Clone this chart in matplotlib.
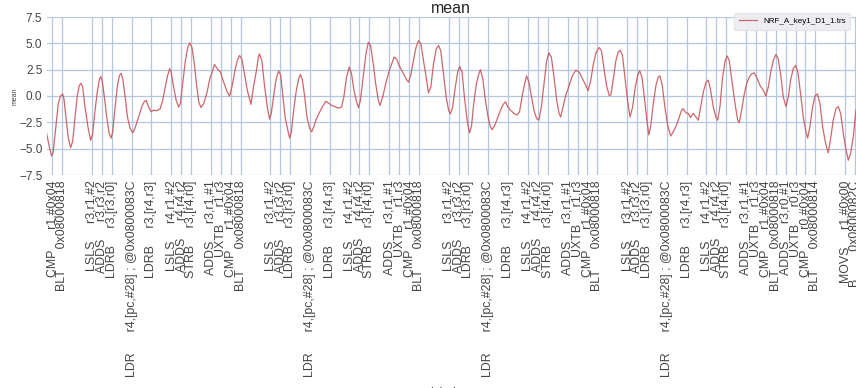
import matplotlib
matplotlib.use("Agg")
import matplotlib.pyplot as plt

# ---------------- data ----------------
# trace samples (x in instruction-cycle units, y = mean)
trace_x = [
    -0.57, -0.30, -0.07, 0.10, 0.37, 0.61, 0.84, 1.05, 1.18, 1.38, 1.62, 1.86, 2.06, 2.30, 2.53, 2.73, 2.90, 3.07,
    3.30, 3.65, 3.88, 4.08, 4.32, 4.56, 4.76, 4.90, 5.06, 5.26, 5.50, 5.74, 5.94, 6.10, 6.35, 6.58, 6.78, 6.95,
    7.12, 7.36, 7.59, 7.86, 8.13, 8.37, 8.70, 9.04, 9.28, 9.48, 9.72, 9.99, 10.20, 10.56, 10.90, 11.14, 11.40,
    11.64, 11.85, 12.00, 12.25, 12.50, 12.76, 12.93, 13.20, 13.43, 13.67, 13.87, 14.10, 14.34, 14.55, 14.78,
    15.00, 15.29, 15.63, 15.90, 16.13, 16.37, 16.64, 16.98, 17.30, 17.65, 17.90, 18.16, 18.43, 18.66, 18.90,
    19.13, 19.40, 19.68, 20.05, 20.30, 20.60, 20.80, 20.90, 21.15, 21.40, 21.70, 21.93, 22.10, 22.37, 22.60,
    22.84, 23.05, 23.28, 23.50, 23.80, 23.96, 24.13, 24.36, 24.63, 24.87, 25.04, 25.24, 25.48, 25.70, 25.98,
    26.18, 26.39, 26.66, 27.00, 27.33, 27.60, 27.84, 28.18, 28.50, 28.85, 29.19, 29.42, 29.70, 29.96, 30.20,
    30.44, 30.70, 30.90, 31.10, 31.38, 31.65, 31.89, 32.12, 32.39, 32.66, 32.90, 33.07, 33.34, 33.68, 34.00,
    34.25, 34.50, 34.76, 35.00, 35.36, 35.70, 35.94, 36.17, 36.44, 36.70, 36.95, 37.20, 37.46, 37.73, 37.96,
    38.20, 38.47, 38.74, 38.98, 39.20, 39.48, 39.75, 39.99, 40.17, 40.40, 40.67, 40.90, 41.10, 41.35, 41.59,
    41.86, 42.10, 42.30, 42.53, 42.80, 43.04, 43.20, 43.44, 43.71, 43.98, 44.20, 44.39, 44.66, 44.96, 45.23,
    45.50, 45.74, 45.97, 46.24, 46.58, 46.92, 47.15, 47.40, 47.66, 47.86, 48.10, 48.34, 48.60, 48.88, 49.10,
    49.35, 49.62, 49.89, 50.10, 50.36, 50.63, 50.90, 51.14, 51.30, 51.54, 51.81, 52.15, 52.50, 52.83, 53.17,
    53.50, 53.84, 54.07, 54.34, 54.60, 54.88, 55.19, 55.42, 55.70, 55.96, 56.20, 56.37, 56.64, 56.87, 57.10,
    57.30, 57.54, 57.78, 58.05, 58.30, 58.56, 58.83, 59.07, 59.27, 59.50, 59.74, 60.00, 60.20, 60.38, 60.65,
    60.91, 61.15, 61.32, 61.55, 61.82, 62.09, 62.40, 62.66, 63.00, 63.27, 63.50, 63.67, 63.94, 64.18, 64.40,
    64.68, 64.95, 65.19, 65.42, 65.70, 65.96, 66.20, 66.43, 66.70, 66.97, 67.14, 67.37, 67.64, 67.90, 68.11,
    68.31, 68.58, 68.89, 69.16, 69.32, 69.56, 69.80, 70.06, 70.33, 70.57, 70.80, 71.07, 71.41, 71.75, 72.00,
    72.25, 72.52, 72.75, 73.02, 73.26, 73.53, 73.76, 74.03, 74.27, 74.50, 74.77, 75.00, 75.24, 75.51, 75.78,
    76.02, 76.22, 76.45, 76.72, 76.96, 77.20, 77.46, 77.73, 78.03, 78.30, 78.57, 78.80, 79.08, 79.31, 79.55,
    79.82, 80.09, 80.32, 80.56, 80.83, 81.00, 81.10,
]
trace_y = [
    -3.55, -4.8, -5.7, -5.3, -2.9, -0.7, 0.0, 0.2, -0.25, -2.0, -4.0, -4.9, -4.3, -2.0, 0.05, 1.0, 1.2, 0.85,
    -1.0, -3.2, -4.2, -3.55, -1.35, 0.5, 1.6, 1.85, 1.3, -0.1, -2.0, -3.55, -4.0, -3.4, -1.0, 1.0, 1.95, 2.15,
    1.6, -0.1, -2.0, -3.1, -3.5, -3.0, -2.0, -1.0, -0.55, -0.4, -1.05, -1.5, -1.35, -1.4, -1.2, -0.4, 0.85,
    1.95, 2.6, 2.25, 0.85, -0.4, -1.05, -0.7, 1.5, 3.35, 4.6, 5.05, 4.6, 3.05, 1.15, -0.55,
    -1.1, -0.7, 0.4, 1.65, 2.25, 3.0, 2.6, 2.25, 1.3, 0.4, 0.0, 1.0, 2.4, 3.35, 3.85,
    3.5, 2.1, 0.55, -0.8, 0.85, 2.4, 3.7, 4.0, 3.35, 1.15, -1.05, -2.2, -1.65, 0.2, 1.65,
    2.4, 1.95, -0.1, -2.0, -3.4, -4.0, -3.4, -1.35, 0.55, 1.65, 2.05, 1.5, -0.1, -2.0, -3.1,
    -3.4, -2.9, -2.15, -1.5, -0.9, -0.5, -0.65, -0.9, -1.0, -1.15, -1.05, -0.1, 1.8, 2.75, 2.1,
    0.55, -0.55, -1.1, -0.4, 1.8, 4.0, 5.1, 4.8, 3.05, 1.0, -0.4, -0.9, -0.1, 1.3, 2.4,
    3.05, 3.7, 3.5, 2.9, 2.25, 1.65, 1.3, 1.95, 3.35, 4.6, 5.25, 4.95, 3.35, 1.8, 0.3,
    0.85, 3.05, 4.45, 4.8, 4.3, 2.1, -0.1, -1.35, -1.7, -1.05, 0.85, 2.25, 2.8, 2.25, -0.1,
    -2.3, -3.5, -2.9, -0.7, 1.15, 2.1, 2.5, 1.65, -0.4, -2.0, -2.9, -3.2, -2.75, -2.0, -1.35,
    -0.8, -0.55, -1.05, -1.35, -1.65, -1.8, -1.5, -0.1, 1.15, 1.9, 1.3, 0.05, -1.35, -2.15, -2.3,
    -1.05, 1.15, 3.35, 4.1, 3.7, 1.8, -0.4, -1.65, -2.0, -1.05, 0.05, 1.0, 1.95, 2.45, 2.25,
    1.65, 1.0, 0.5, 1.5, 3.05, 4.15, 4.6, 4.3, 2.4, 0.85, 0.05, 0.1, 1.8, 3.35, 4.15,
    4.35, 3.85, 1.8, -0.4, -2.0, -1.05, 0.85, 1.95, 2.4, 1.8, -0.1, -2.3, -3.7, -2.9, -0.7,
    1.0, 1.8, 1.9, 1.0, -1.05, -2.75, -3.8, -3.4, -2.75, -2.0, -1.35, -1.2, -1.6, -1.65, -2.05,
    -1.65, -2.0, -2.3, -1.05, 0.4, 1.3, 1.5, 0.55, -1.05, -2.0, -2.3, -1.05, 1.8, 3.35, 3.8,
    3.35, 1.5, -0.7, -2.3, -2.55, -1.35, 0.05, 1.15, 1.8, 2.1, 2.2, 1.8, 1.0, 0.55, 0.0,
    0.85, 2.4, 3.35, 3.95, 3.5, 1.8, -0.1, -1.0, -0.1, 1.5, 2.6, 2.9, 2.25, 0.2, -2.0,
    -3.25, -4.0, -2.9, -1.05, 0.0, 0.2, -0.7, -2.9, -4.5, -5.4, -3.85, -2.3, -1.2, -1.0, -1.65,
    -3.55, -5.1, -6.1, -5.45, -3.85, -2.3, -1.35,
]

# instruction ticks (cycle positions) and their disassembly text
loop_pos = [0, 1, 4, 5, 6, 8, 10, 12, 13, 14, 16, 17]
loop_mnem = ["CMP", "BLT", "LSLS", "ADDS", "LDRB", "LDR", "LDRB", "LSLS", "ADDS", "STRB",
             "ADDS", "UXTB"]
loop_ops = ["r1,#0x04", "0x08000818", "r3,r1,#2", "r3,r3,r2", "r3,[r3,r0]",
            "r4,[pc,#28] ; @0x0800083C", "r3,[r4,r3]", "r4,r1,#2", "r4,r4,r2", "r3,[r4,r0]",
            "r3,r1,#1", "r1,r3"]
loop_starts = [0, 18, 36, 54]
tail_pos = [72, 73, 74, 75, 76, 77, 80, 81]
tail_mnem = ["CMP", "BLT", "ADDS", "UXTB", "CMP", "BLT", "MOVS", "B"]
tail_ops = ["r1,#0x04", "0x08000818", "r3,r0,#1", "r0,r3", "r0,#0x04", "0x08000814",
            "r1,#0x00", "0x0800082C"]

legend_label = "NRF_A_key1_D1_1.trs"
y_ticks = [-7.5, -5.0, -2.5, 0.0, 2.5, 5.0, 7.5]

# ---------------- build tick list ----------------
tick_pos, tick_text = [], []
for s in loop_starts:
    for p, m, o in zip(loop_pos, loop_mnem, loop_ops):
        tick_pos.append(s + p)
        tick_text.append(f"{m:<9}{o}")
for p, m, o in zip(tail_pos, tail_mnem, tail_ops):
    tick_pos.append(p)
    tick_text.append(f"{m:<9}{o}")

# ---------------- plot ----------------
plt.rcParams["font.family"] = ["Liberation Sans", "DejaVu Sans"]
fig = plt.figure(figsize=(8.56, 3.88), dpi=100)
W, H = 856.0, 388.0
left, right, top, bottom = 46.5, 856.0, 17.0, 175.0
ax = fig.add_axes([left / W, 1 - bottom / H, (right - left) / W, (bottom - top) / H])

ax.plot(trace_x, trace_y, color="#c44e52", lw=0.9, alpha=0.85, label=legend_label)

ax.set_xlim(-0.58, 81.1)
ax.set_ylim(-7.5, 7.5)
ax.set_yticks(y_ticks)
ax.set_xticks(tick_pos)
ax.set_xticklabels(tick_text, rotation=90, fontsize=8.9, color="#444444")
ax.tick_params(axis="y", labelsize=8.5, labelcolor="#444444", length=0, pad=3)
ax.tick_params(axis="x", length=0, pad=4)

ax.grid(True, color="#b6c6e0", lw=0.9)
ax.set_axisbelow(True)
for sp in ax.spines.values():
    sp.set_visible(False)

ax.set_title("mean", fontsize=11.5, color="#262626", pad=3)
ax.set_ylabel("mean", fontsize=5, color="#444444")
ax.yaxis.set_label_coords(-0.034, 0.5)
ax.set_xlabel("label", fontsize=8.7, color="#444444", va="top")
ax.xaxis.set_label_coords(0.49, (bottom - 387.5) / (bottom - top))

leg = ax.legend(loc="upper right", bbox_to_anchor=(0.9926, 1.025), fontsize=5.8, frameon=True,
                facecolor="#eeeef2", edgecolor="#e4e4ea", framealpha=0.95, handlelength=2.2,
                borderpad=0.55, borderaxespad=0.0)

fig.savefig("out.png", dpi=100)
